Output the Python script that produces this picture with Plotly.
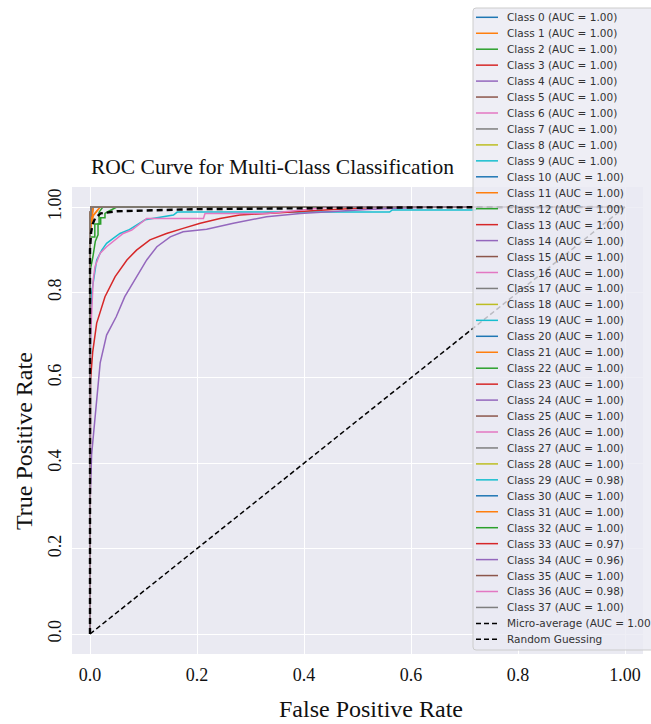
import plotly.graph_objects as go

# ---------------- data ----------------
class_ids = list(range(38))
class_auc = [1.00] * 38
class_auc[29] = 0.98
class_auc[33] = 0.97
class_auc[34] = 0.96
class_auc[36] = 0.98

tab10 = ["#1f77b4", "#ff7f0e", "#2ca02c", "#d62728", "#9467bd",
         "#8c564b", "#e377c2", "#7f7f7f", "#bcbd22", "#17becf"]

# near-perfect classes
fpr_perfect = [0.0, 0.0, 0.002, 1.0]
tpr_perfect = [0.0, 0.97, 1.0, 1.0]

fpr_corner = [0.0, 0.0, 0.003, 0.006, 1.0]
tpr_corner = [0.0, 0.93, 0.97, 1.0, 1.0]

fpr_orange = [0.0, 0.0, 0.006, 0.012, 0.019, 1.0]
tpr_orange = [0.0, 0.95, 0.98, 0.99, 1.0, 1.0]

fpr_green_a = [0.0, 0.0, 0.005, 0.01, 0.015, 0.015, 0.02, 0.02, 0.028, 0.028, 0.035, 0.05, 1.0]
tpr_green_a = [0.0, 0.85, 0.88, 0.92, 0.935, 0.96, 0.96, 0.975, 0.975, 0.985, 0.99, 1.0, 1.0]

fpr_green_b = [0.0, 0.0, 0.009, 0.009, 0.017, 0.017, 0.024, 1.0]
tpr_green_b = [0.0, 0.93, 0.93, 0.96, 0.96, 0.988, 1.0, 1.0]

# visibly imperfect classes
fpr_29 = [0.0, 0.0, 0.001, 0.003, 0.0075, 0.0125, 0.022, 0.031, 0.044, 0.056, 0.072,
          0.087, 0.103, 0.156, 0.163, 0.56, 0.565, 0.72, 0.725, 1.0]
tpr_29 = [0.0, 0.62, 0.70, 0.798, 0.837, 0.876, 0.899, 0.915, 0.927, 0.938, 0.946,
          0.958, 0.97, 0.981, 0.988, 0.988, 0.993, 0.993, 1.0, 1.0]

fpr_33 = [0.0, 0.0, 0.001, 0.005, 0.0125, 0.028, 0.047, 0.069, 0.087, 0.112, 0.143,
          0.174, 0.206, 0.243, 0.28, 0.33, 0.394, 0.455, 0.52, 0.56, 1.0]
tpr_33 = [0.0, 0.55, 0.595, 0.66, 0.728, 0.79, 0.837, 0.876, 0.899, 0.923, 0.938,
          0.95, 0.962, 0.973, 0.981, 0.985, 0.99, 0.994, 0.998, 1.0, 1.0]

fpr_34 = [0.0, 0.0, 0.003, 0.0075, 0.0125, 0.019, 0.031, 0.049, 0.065, 0.087, 0.106,
          0.125, 0.15, 0.174, 0.218, 0.268, 0.33, 0.393, 0.455, 0.517, 0.6, 0.65, 1.0]
tpr_34 = [0.0, 0.30, 0.42, 0.48, 0.556, 0.635, 0.70, 0.743, 0.79, 0.837, 0.876,
          0.907, 0.93, 0.942, 0.948, 0.962, 0.977, 0.985, 0.99, 0.994, 0.998, 1.0, 1.0]

fpr_36 = [0.0, 0.0, 0.003, 0.006, 0.0093, 0.019, 0.031, 0.047, 0.062, 0.078, 0.087,
          0.106, 0.212, 0.215, 0.332, 0.411, 0.45, 1.0]
tpr_36 = [0.0, 0.65, 0.75, 0.829, 0.86, 0.892, 0.907, 0.923, 0.938, 0.946, 0.954,
          0.973, 0.973, 0.985, 0.985, 0.994, 1.0, 1.0]

fpr_micro = [0.0, 0.0, 0.002, 0.005, 0.01, 0.02, 0.05, 0.2, 0.6, 1.0]
tpr_micro = [0.0, 0.90, 0.94, 0.96, 0.975, 0.985, 0.99, 0.995, 0.999, 1.0]
micro_auc = 1.00

diag_x = [0.0, 1.0]
diag_y = [0.0, 1.0]

tick_vals = [0.0, 0.2, 0.4, 0.6, 0.8, 1.0]
x_tick_text = ["0.0", "0.2", "0.4", "0.6", "0.8", "1.00"]
y_tick_text = ["0.0", "0.2", "0.4", "0.6", "0.8", "1.00"]

special = {
    1: (fpr_orange, tpr_orange), 11: (fpr_corner, tpr_corner),
    21: (fpr_orange, tpr_orange), 22: (fpr_green_b, tpr_green_b),
    32: (fpr_green_a, tpr_green_a), 5: (fpr_corner, tpr_corner),
    29: (fpr_29, tpr_29), 33: (fpr_33, tpr_33),
    34: (fpr_34, tpr_34), 36: (fpr_36, tpr_36),
}

# ---------------- layout geometry ----------------
W, H = 651, 724
ML, MR, MT, MB = 72, 8, 187, 70
PW, PH = W - ML - MR, H - MT - MB


def px(xp):
    return (xp - ML) / PW


def py(yp):
    return (H - MB - yp) / PH


serif = "Liberation Serif, Times New Roman, serif"
sans = "DejaVu Sans, sans-serif"

fig = go.Figure()
for k in class_ids:
    fx, ty = special.get(k, (fpr_perfect, tpr_perfect))
    fig.add_trace(go.Scatter(x=fx, y=ty, mode="lines",
                             line=dict(color=tab10[k % 10], width=1.5),
                             name=f"Class {k} (AUC = {class_auc[k]:.2f})",
                             showlegend=False))
fig.add_trace(go.Scatter(x=fpr_micro, y=tpr_micro, mode="lines",
                         line=dict(color="black", width=2.4, dash="6px,4px"),
                         name=f"Micro-average (AUC = {micro_auc:.2f})", showlegend=False))
fig.add_trace(go.Scatter(x=diag_x, y=diag_y, mode="lines",
                         line=dict(color="black", width=1.5, dash="5px,3px"),
                         name="Random Guessing", showlegend=False))

# ---------------- custom legend ----------------
leg_labels = [f"Class {k} (AUC = {class_auc[k]:.2f})" for k in class_ids]
leg_labels += [f"Micro-average (AUC = {micro_auc:.2f})", "Random Guessing"]
leg_colors = [tab10[k % 10] for k in class_ids] + ["black", "black"]
leg_dash = ["solid"] * 38 + ["5px,3px", "5px,3px"]

shapes = []
annotations = []
x0, x1 = px(473), px(665)
y0, y1 = py(650), py(8)
rx, ry = 3 / PW, 3 / PH
path = (f"M {x0 + rx},{y1} L {x1},{y1} L {x1},{y0} L {x0 + rx},{y0} "
        f"Q {x0},{y0} {x0},{y0 + ry} L {x0},{y1 - ry} Q {x0},{y1} {x0 + rx},{y1} Z")
shapes.append(dict(type="path", xref="paper", yref="paper", path=path,
                   fillcolor="rgba(234,234,242,0.8)", line=dict(color="#cccccc", width=1),
                   layer="above"))
for i, (lab, col, dsh) in enumerate(zip(leg_labels, leg_colors, leg_dash)):
    yc = 17.3 + 15.95 * i
    shapes.append(dict(type="line", xref="paper", yref="paper",
                       x0=px(476), x1=px(498), y0=py(yc), y1=py(yc),
                       line=dict(color=col, width=1.5, dash=dsh), layer="above"))
    annotations.append(dict(text=lab, xref="paper", yref="paper", x=px(505), y=py(yc),
                            xanchor="left", yanchor="middle", showarrow=False,
                            font=dict(family=sans, size=10.5, color="#333333")))

# titles
annotations.append(dict(text="ROC Curve for Multi-Class Classification", xref="paper", yref="paper",
                        x=px(272), y=py(167), xanchor="center", yanchor="middle", showarrow=False,
                        font=dict(family=serif, size=21.5, color="#111111")))
annotations.append(dict(text="False Positive Rate", xref="paper", yref="paper",
                        x=px(371), y=py(709), xanchor="center", yanchor="middle", showarrow=False,
                        font=dict(family=serif, size=24, color="#111111")))
annotations.append(dict(text="True Positive Rate", xref="paper", yref="paper",
                        x=px(24), y=py(441), xanchor="center", yanchor="middle", showarrow=False,
                        textangle=-90, font=dict(family=serif, size=24, color="#111111")))

fig.update_layout(
    width=W, height=H,
    margin=dict(l=ML, r=MR, t=MT, b=MB, pad=0),
    paper_bgcolor="white", plot_bgcolor="#EAEAF2",
    shapes=shapes, annotations=annotations, showlegend=False,
)
fig.update_xaxes(range=[-(90 - 72) / 535, (643 - 90) / 535], tickvals=tick_vals, ticktext=x_tick_text,
                 showgrid=True, gridcolor="white", gridwidth=1.2, zeroline=False,
                 showline=False, ticks="", ticklabelstandoff=8,
                 tickfont=dict(family=serif, size=18, color="#111111"))
fig.update_yaxes(range=[(634 - 654) / 427, (634 - 187) / 427], tickvals=tick_vals, ticktext=y_tick_text,
                 showgrid=True, gridcolor="white", gridwidth=1.2, zeroline=False,
                 showline=False, ticks="", tickangle=-90, ticklabelstandoff=6,
                 tickfont=dict(family=serif, size=18, color="#111111"))

fig.write_html("out.html", config={"displayModeBar": False},
               post_script="document.body.style.margin='0px';document.body.style.overflow='hidden';")
